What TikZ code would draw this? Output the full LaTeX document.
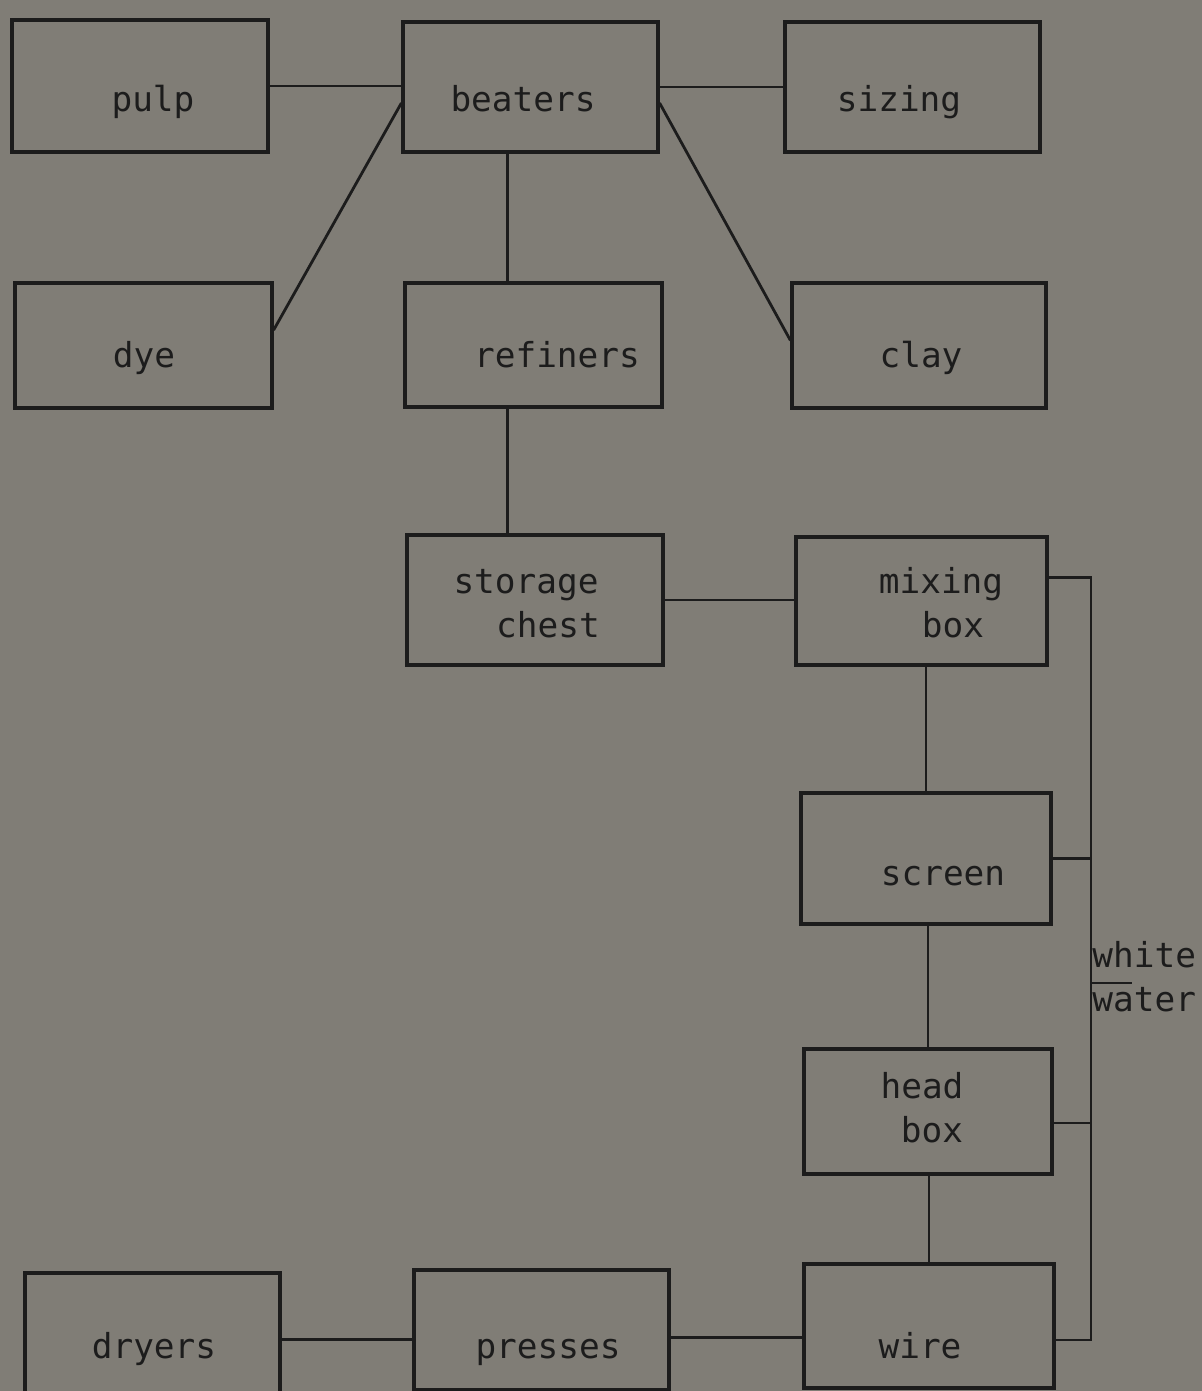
\documentclass[tikz,border=0pt]{standalone}
\usepackage{fontspec}
\newfontfamily\typewriter{DejaVu Sans Mono}
\usetikzlibrary{fit,calc}

\definecolor{paper}{RGB}{128,125,118}
\definecolor{ink}{RGB}{28,28,28}

\tikzset{
  box/.style={draw=ink, line width=1.6pt, inner sep=0pt},
  link/.style={draw=ink, line width=1.4pt},
  lbl/.style={font=\typewriter\fontsize{17.2}{22}\selectfont, text=ink, inner sep=0pt, anchor=base}
}

\begin{document}
\begin{tikzpicture}[x=0.5pt,y=-0.5pt]

% Paper
\fill[paper] (0,0) rectangle (1202,1391);
\useasboundingbox (0,0) rectangle (1202,1391);
\clip (0,0) rectangle (1202,1391);

% Boxes
\node[box, fit={(12,20) (268,152)}] (pulp) {};
\node[box, fit={(403,22) (658,152)}] (beaters) {};
\node[box, fit={(785,22) (1040,152)}] (sizing) {};
\node[box, fit={(15,283) (272,408)}] (dye) {};
\node[box, fit={(405,283) (662,407)}] (refiners) {};
\node[box, fit={(792,283) (1046,408)}] (clay) {};
\node[box, fit={(407,535) (663,665)}] (chest) {};
\node[box, fit={(796,537) (1047,665)}] (mixbox) {};
\node[box, fit={(801,793) (1051,924)}] (screen) {};
\node[box, fit={(804,1049) (1052,1174)}] (headbox) {};
\node[box, fit={(25,1273) (280,1400)}] (dryers) {};
\node[box, fit={(414,1270) (669,1390)}] (presses) {};
\node[box, fit={(804,1264) (1054,1388)}] (wire) {};

% Labels
\node[lbl] (pulp-t) at (153,112) {pulp};
\node[lbl] (beaters-t) at (523,112) {beaters};
\node[lbl] (sizing-t) at (899,112) {sizing};
\node[lbl] (dye-t) at (144,367) {dye};
\node[lbl] (refiners-t) at (557,367) {refiners};
\node[lbl] (clay-t) at (921,367) {clay};
\node[lbl] (chest-t1) at (526,593) {storage};
\node[lbl] (chest-t2) at (548,637) {chest};
\node[lbl] (mixbox-t1) at (941,593) {mixing};
\node[lbl] (mixbox-t2) at (953,637) {box};
\node[lbl] (screen-t) at (943,885) {screen};
\node[lbl] (headbox-t1) at (922,1098) {head};
\node[lbl] (headbox-t2) at (932,1142) {box};
\node[lbl] (dryers-t) at (154,1358) {dryers};
\node[lbl] (presses-t) at (548,1358) {presses};
\node[lbl] (wire-t) at (920,1358) {wire};
\node[lbl, anchor=base west] (white-t) at (1092,967) {white};
\node[lbl, anchor=base west] (water-t) at (1092,1011) {water};

% Connectors
\draw[link] (pulp.east) -- (pulp.east -| beaters.west);
\draw[link] (beaters.east) -- (beaters.east -| sizing.west);
\draw[link] ($(beaters.north west)!0.62!(beaters.south west)$) -- ($(dye.north east)!0.38!(dye.south east)$);
\draw[link] ($(beaters.north east)!0.62!(beaters.south east)$) -- ($(clay.north west)!0.46!(clay.south west)$);

\coordinate (r1) at ($(refiners.north west)!0.4!(refiners.north east)$);
\draw[link] (r1) -- (r1 |- beaters.south);
\coordinate (c1) at ($(chest.north west)!0.395!(chest.north east)$);
\draw[link] (c1) -- (c1 |- refiners.south);
\draw[link] (chest.east) -- (chest.east -| mixbox.west);
\draw[link] (screen.north) -- (screen.north |- mixbox.south);
\draw[link] (headbox.north) -- (headbox.north |- screen.south);
\draw[link] (wire.north) -- (wire.north |- headbox.south);

\coordinate (w1) at ($(wire.north west)!0.59!(wire.south west)$);
\draw[link] (w1) -- (w1 -| presses.east);
\coordinate (p1) at ($(presses.north west)!0.58!(presses.south west)$);
\draw[link] (p1) -- (p1 -| dryers.east);

% White water return
\coordinate (ww) at (1091,0);
\coordinate (m1) at ($(mixbox.north east)!0.32!(mixbox.south east)$);
\coordinate (h1) at ($(headbox.north east)!0.59!(headbox.south east)$);
\coordinate (w2) at ($(wire.north east)!0.61!(wire.south east)$);
\draw[link] (m1) -- (m1 -| ww) -- (w2 -| ww) -- (w2);
\draw[link] (screen.east) -- (screen.east -| ww);
\draw[link] (h1) -- (h1 -| ww);
\coordinate (tick) at (1132,983);
\draw[link] (tick -| ww) -- (tick);

\end{tikzpicture}
\end{document}
